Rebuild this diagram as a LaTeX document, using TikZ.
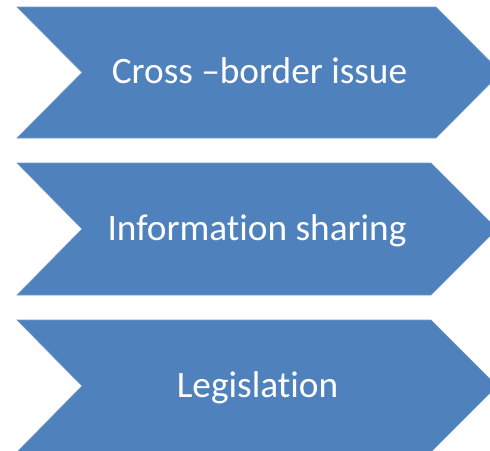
\documentclass[tikz,border=0pt]{standalone}
\usepackage{fontspec}
\setmainfont[RawFeature={-liga;-clig;-calt}]{Carlito}
\definecolor{chevblue}{RGB}{79,129,189}
\tikzset{
  chevron/.style={fill=chevblue, draw=chevblue!80!white, line width=0.6pt},
  chevtext/.style={text=white, anchor=base, font=\fontsize{37.3}{42}\selectfont}
}

\begin{document}
\begin{tikzpicture}[x=1pt,y=-1pt]
\useasboundingbox (0,0) rectangle (490,450);
\clip (0,0) rectangle (490,450);

\draw[chevron] (17,7) -- (436,7) -- (501,72.5) -- (436,138) -- (17,138) -- (82,72.5) -- cycle;
\draw[chevron] (17,163) -- (431,163) -- (497,229) -- (431,295) -- (17,295) -- (82,229) -- cycle;
\draw[chevron] (17,320) -- (431,320) -- (497,386) -- (431,452) -- (17,452) -- (82,386) -- cycle;

\node[chevtext] (cross) at (259.5,83.3) {Cross –border issue};
\node[chevtext] (info) at (257,240) {Information sharing};
\node[chevtext] (legis) at (257.5,397) {Legislation};

\end{tikzpicture}
\end{document}
